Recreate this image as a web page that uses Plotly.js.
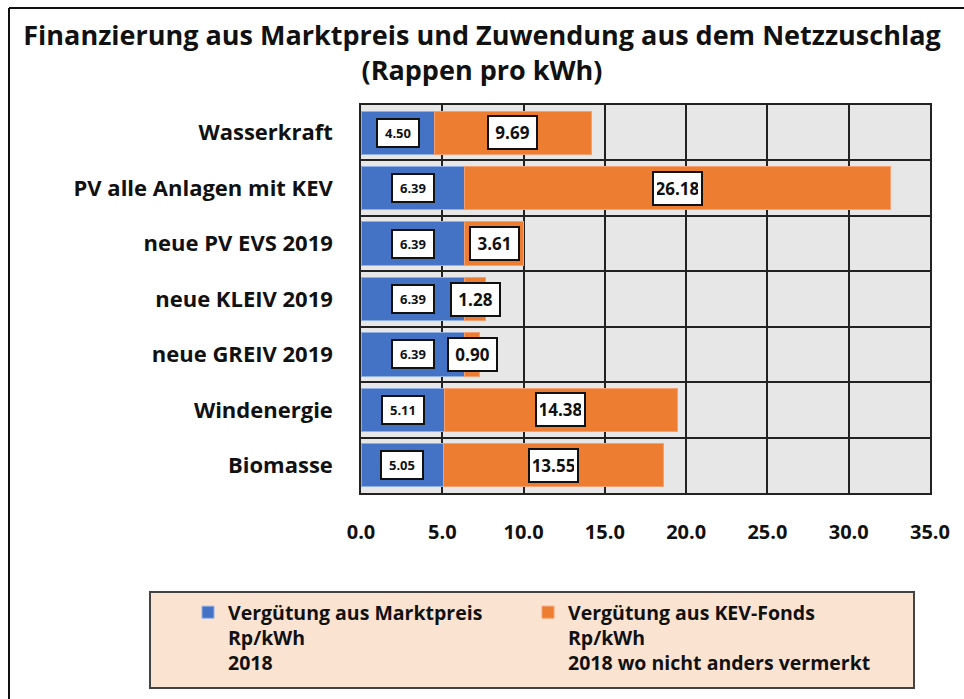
<!DOCTYPE html>
<html>
<head>
<meta charset="utf-8">
<script src="https://cdn.plot.ly/plotly-3.0.1.min.js"></script>
<style>html,body{margin:0;padding:0;background:#fff}#chart{width:964px;height:699px}</style>
</head>
<body>
<div id="chart"></div>
<script>
const categories = ["Wasserkraft", "PV alle Anlagen mit KEV", "neue PV EVS 2019", "neue KLEIV 2019", "neue GREIV 2019", "Windenergie", "Biomasse"];
const marktpreis = [4.50, 6.39, 6.39, 6.39, 6.39, 5.11, 5.05];
const kevFonds = [9.69, 26.18, 3.61, 1.28, 0.90, 14.38, 13.55];
const seriesNames = ["Vergütung aus Marktpreis<br>Rp/kWh<br>2018", "Vergütung aus KEV-Fonds<br>Rp/kWh<br>2018 wo nicht anders vermerkt"];
const xTickVals = [0, 5, 10, 15, 20, 25, 30, 35];

const FONT = "'Open Sans', Lato, sans-serif";
const BLUE = "#4472C4", ORANGE = "#ED7D31";

const traces = [
  {type: "bar", orientation: "h", y: categories, x: marktpreis, name: seriesNames[0], legend: "legend",
   marker: {color: BLUE, line: {color: "#8fb0e6", width: 1}}, hoverinfo: "x+y"},
  {type: "bar", orientation: "h", y: categories, x: kevFonds, name: seriesNames[1], legend: "legend2",
   marker: {color: ORANGE, line: {color: "#f4a070", width: 1}}, hoverinfo: "x+y"}
];

const annotations = [];
categories.forEach((c, i) => {
  annotations.push({x: marktpreis[i] / 2, y: c, xref: "x", yref: "y", text: marktpreis[i].toFixed(2),
    showarrow: false, bgcolor: "#fff", bordercolor: "#111", borderwidth: 2, borderpad: 3, width: 34, height: 20,
    font: {family: FONT, size: 13, color: "#111", weight: "bold"}});
  annotations.push({x: marktpreis[i] + kevFonds[i] / 2, y: c, xref: "x", yref: "y", text: kevFonds[i].toFixed(2),
    showarrow: false, bgcolor: "#fff", bordercolor: "#111", borderwidth: 2, borderpad: 3, width: 41, height: 25,
    font: {family: FONT, size: 17, color: "#111", weight: "bold"}});
});

const W = 569, H = 388, L = 361, T = 105;
const px = v => (v - L) / W;
const py = v => (T + H - v) / H;

const shapes = [
  {type: "rect", xref: "paper", yref: "paper", x0: px(150), x1: px(914), y0: py(688), y1: py(592),
   fillcolor: "#fbe3d2", line: {color: "#444", width: 2}, layer: "below"},
  {type: "line", xref: "paper", yref: "paper", x0: px(9), x1: px(9), y0: py(8), y1: py(700),
   line: {color: "#111", width: 2}},
  {type: "line", xref: "paper", yref: "paper", x0: px(9), x1: px(965), y0: py(8), y1: py(8),
   line: {color: "#111", width: 2}}
];

const legendBase = {orientation: "v", xanchor: "left", y: py(593), yanchor: "top",
  bgcolor: "rgba(0,0,0,0)", borderwidth: 0, valign: "top",
  font: {family: FONT, size: 19.5, weight: "bold", color: "#111"}};

const layout = {
  width: 964, height: 699,
  margin: {l: L, r: 964 - L - W, t: T, b: 699 - T - H},
  paper_bgcolor: "#fff", plot_bgcolor: "#e7e7e7",
  barmode: "stack", bargap: 0.22,
  font: {family: FONT, color: "#111"},
  title: {text: "Finanzierung aus Marktpreis und Zuwendung aus dem Netzzuschlag<br>(Rappen pro kWh)",
    font: {family: FONT, size: 27, weight: "bold", color: "#111"},
    x: 0.5, xanchor: "center", xref: "container", y: 1 - 45 / 699, yanchor: "top", yref: "container"},
  xaxis: {range: [0, 35], tickvals: xTickVals, ticktext: xTickVals.map(v => v.toFixed(1)),
    showgrid: true, gridcolor: "#222", gridwidth: 1.5, zeroline: false,
    showline: true, linecolor: "#222", linewidth: 1.5, mirror: true,
    ticks: "", ticklabelstandoff: 20, tickfont: {family: FONT, size: 20, weight: "bold", color: "#111"}, fixedrange: true},
  yaxis: {type: "category", autorange: "reversed", tickson: "boundaries",
    showgrid: true, gridcolor: "#222", gridwidth: 1.5,
    showline: true, linecolor: "#222", linewidth: 1.5, mirror: true,
    ticks: "", ticklabelstandoff: 22, tickfont: {family: FONT, size: 22, weight: "bold", color: "#111"}, fixedrange: true},
  legend: Object.assign({}, legendBase, {x: px(188)}),
  legend2: Object.assign({}, legendBase, {x: px(528)}),
  annotations: annotations,
  shapes: shapes,
  showlegend: true
};

Plotly.newPlot("chart", traces, layout, {displayModeBar: false, staticPlot: false});
</script>
</body>
</html>
